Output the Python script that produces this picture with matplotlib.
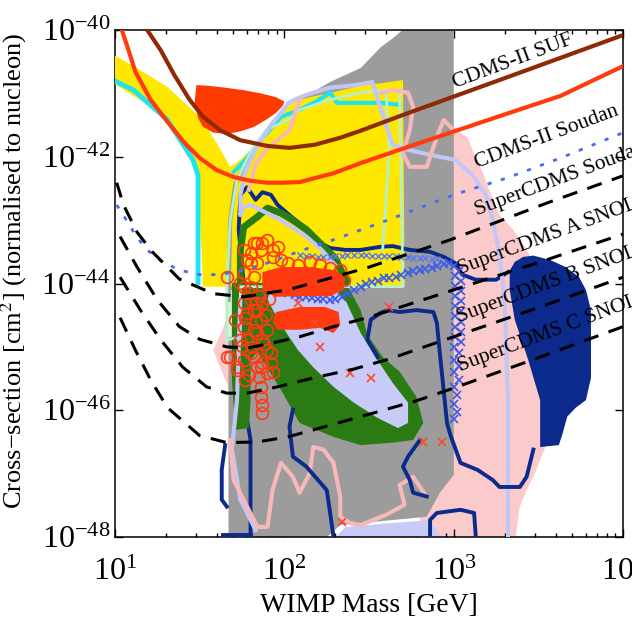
import numpy as np
import matplotlib
matplotlib.use("Agg")
import matplotlib.pyplot as plt
from matplotlib.ticker import FixedLocator, NullLocator, LogFormatterMathtext

plt.rcParams['font.family'] = ['Liberation Serif', 'DejaVu Serif']
plt.rcParams['mathtext.fontset'] = 'stix'

# all values below are log10(mass / GeV) and log10(sigma / cm^2)

# limit curves
suf_m = [1.17, 1.19, 1.27, 1.35, 1.44, 1.52, 1.62, 1.74, 1.90, 2.03, 2.18, 2.33, 2.45, 2.68, 2.98, 3.27, 3.63, 4.00]
suf_s = [-39.9, -40.00, -40.32, -40.71, -41.10, -41.37, -41.58, -41.74, -41.83, -41.86, -41.81, -41.70, -41.59, -41.36, -41.07, -40.79, -40.44, -40.08]
sou_m = [1.03, 1.04, 1.08, 1.12, 1.21, 1.31, 1.41, 1.50, 1.60, 1.70, 1.80, 1.90, 1.99, 2.09, 2.29, 2.45, 2.68, 2.98, 3.27, 3.63, 4.00]
sou_s = [-39.9, -40.00, -40.32, -40.66, -41.10, -41.45, -41.78, -42.02, -42.21, -42.32, -42.38, -42.41, -42.41, -42.40, -42.26, -42.10, -41.89, -41.62, -41.36, -41.04, -40.57]
sso_m = [1.01, 1.06, 1.12, 1.18, 1.27, 1.38, 1.50, 1.62, 1.74, 1.92, 2.09, 2.29, 2.58, 3.00, 3.32, 3.63, 4.00]
sso_s = [-42.76, -42.97, -43.23, -43.45, -43.64, -43.79, -43.86, -43.86, -43.80, -43.66, -43.49, -43.31, -43.03, -42.60, -42.33, -42.02, -41.62]
snoa_m = [1.01, 1.05, 1.13, 1.22, 1.38, 1.58, 1.76, 1.90, 2.02, 2.29, 2.49, 2.68, 2.98, 3.55, 4.00]
snoa_s = [-42.41, -42.76, -43.19, -43.50, -43.93, -44.16, -44.21, -44.15, -44.10, -43.90, -43.75, -43.58, -43.31, -42.73, -42.30]
snob_m = [1.03, 1.13, 1.25, 1.38, 1.50, 1.66, 1.78, 1.96, 2.09, 2.29, 2.49, 3.00, 3.51, 4.00]
snob_s = [-43.26, -43.74, -44.26, -44.68, -44.88, -45.00, -45.02, -44.92, -44.84, -44.68, -44.54, -44.10, -43.66, -43.22]
snoc_m = [1.03, 1.15, 1.27, 1.40, 1.54, 1.66, 1.78, 1.96, 2.17, 2.41, 2.62, 3.00, 3.51, 4.00]
snoc_s = [-43.90, -44.42, -44.89, -45.32, -45.63, -45.73, -45.73, -45.63, -45.49, -45.35, -45.19, -44.84, -44.37, -43.90]
snod_m = [1.03, 1.12, 1.21, 1.31, 1.50, 1.66, 1.84, 2.02, 2.17, 2.49, 2.78, 3.00, 3.51, 4.00]
snod_s = [-44.54, -45.05, -45.52, -45.96, -46.40, -46.51, -46.50, -46.42, -46.31, -46.07, -45.85, -45.65, -45.16, -44.68]

# filled regions
pink_m = [2.80, 2.80, 3.00, 3.08, 3.11, 3.17, 3.22, 3.27, 3.35, 3.43, 3.47, 3.51, 3.54, 3.48, 3.43, 3.39, 3.36]
pink_s = [-48.1, -41.55, -41.55, -41.69, -41.89, -42.24, -42.60, -42.92, -43.15, -43.47, -43.66, -44.26, -46.58, -46.99, -47.26, -47.52, -48.1]
pink2_m = [1.68, 1.58, 1.68]
pink2_s = [-44.45, -45.05, -45.71]
grey_m = [1.67, 2.21, 2.33, 2.84, 2.92, 3.00, 3.00, 2.74, 2.65, 2.57, 2.45, 2.27, 2.09, 1.86, 1.78, 1.71, 1.67]
grey_s = [-48.1, -48.1, -47.81, -47.68, -47.29, -47.02, -39.9, -39.9, -40.11, -40.27, -40.60, -40.82, -41.10, -41.74, -42.05, -42.44, -42.84]
lavb_m = [2.27, 2.36, 2.86, 2.95]
lavb_s = [-48.1, -47.84, -47.73, -48.1]
navy_m = [3.33, 3.36, 3.41, 3.47, 3.57, 3.66, 3.74, 3.78, 3.81, 3.81, 3.78, 3.72, 3.67, 3.64, 3.62, 3.51, 3.51, 3.44, 3.36, 3.33]
navy_s = [-43.80, -43.66, -43.58, -43.56, -43.63, -43.74, -43.90, -44.10, -44.42, -45.49, -45.84, -45.96, -46.10, -46.39, -46.55, -46.58, -45.84, -45.21, -44.57, -44.10]
yel_m = [0.99, 1.11, 1.31, 1.50, 1.60, 1.68, 1.74, 1.80, 1.90, 1.98, 2.02, 2.15, 2.29, 2.45, 2.57, 2.70, 2.71, 1.52, 1.49, 1.46, 1.37, 1.21, 0.99]
yel_s = [-40.39, -40.57, -40.90, -41.37, -41.78, -42.16, -42.05, -41.89, -41.58, -41.31, -41.15, -41.06, -40.98, -40.88, -40.84, -40.79, -44.05, -44.05, -42.21, -42.00, -41.62, -41.21, -40.84]
blob_m = [1.48, 1.55, 1.65, 1.76, 1.86, 1.95, 2.00, 1.99, 1.95, 1.89, 1.82, 1.74, 1.66, 1.58, 1.52, 1.49, 1.47]
blob_s = [-40.87, -40.88, -40.91, -40.95, -41.00, -41.06, -41.13, -41.20, -41.31, -41.42, -41.53, -41.60, -41.64, -41.62, -41.53, -41.39, -41.15]
green_m = [1.69, 2.36, 2.37, 2.45, 2.49, 2.58, 2.68, 2.78, 2.82, 2.76, 2.64, 2.45, 2.29, 2.09, 1.98, 1.84, 1.80, 1.80, 1.79, 1.71, 1.69]
green_s = [-43.99, -43.99, -44.02, -44.42, -44.81, -45.16, -45.39, -45.79, -46.20, -46.47, -46.51, -46.55, -46.42, -46.20, -45.68, -45.08, -45.21, -45.84, -46.28, -46.31, -45.52]
gtop_m = [1.74, 1.74, 1.76, 1.84, 1.90, 1.98, 2.05, 2.13, 2.21, 2.30, 2.37]
gtop_s = [-44.26, -43.47, -43.11, -42.95, -42.81, -42.89, -43.00, -43.15, -43.36, -43.60, -43.99]
lav_m = [1.92, 2.09, 2.27, 2.36, 2.45, 2.55, 2.64, 2.73, 2.73, 2.67, 2.55, 2.41, 2.29, 2.17, 2.08, 1.98, 1.90]
lav_s = [-44.05, -43.99, -43.99, -44.26, -44.78, -45.21, -45.57, -45.88, -46.20, -46.28, -46.12, -45.88, -45.63, -45.32, -45.05, -44.65, -44.26]
mbox_m = [1.66, 1.77, 1.77, 1.66]
mbox_s = [-44.10, -44.10, -44.84, -44.84]

# contour lines
cyan1_m = [0.99, 1.11, 1.31, 1.46, 1.49, 1.49]
cyan1_s = [-40.79, -40.95, -41.42, -42.05, -42.29, -43.99]
cyan2_m = [1.70, 1.77, 1.86, 1.98, 2.09, 2.18, 2.27, 2.31, 2.45, 2.57, 2.68]
cyan2_s = [-42.24, -42.05, -41.74, -41.37, -41.26, -41.14, -40.99, -41.15, -41.15, -41.15, -41.18]
mint1_m = [1.66, 1.66, 1.68, 1.72, 1.80, 1.89, 2.02, 2.09, 2.27, 2.45, 2.60, 2.68, 2.70, 1.74, 1.74, 1.66]
mint1_s = [-44.89, -44.10, -43.00, -42.37, -41.92, -41.58, -41.42, -41.26, -41.10, -40.99, -40.95, -40.95, -44.05, -44.05, -44.84, -44.89]
mint2_m = [2.60, 2.62, 2.58]
mint2_s = [-40.95, -41.89, -43.47]
gline_m = [1.67, 1.68, 1.71, 1.78, 1.86]
gline_s = [-44.26, -43.00, -42.44, -42.05, -41.74]
lav1_m = [3.32, 3.32, 3.30, 3.27, 3.23, 3.19, 3.11, 3.01, 2.86, 2.73, 2.64, 2.57, 2.52, 2.42, 2.27, 2.12, 2.03, 1.92, 1.83, 1.77, 1.74, 1.74, 1.76, 1.80, 1.98, 2.13, 2.22, 2.30]
lav1_s = [-48.1, -45.84, -44.26, -43.55, -43.00, -42.60, -42.29, -42.05, -41.97, -41.89, -41.81, -41.26, -40.82, -40.87, -40.91, -41.03, -41.14, -41.50, -41.89, -42.24, -42.60, -42.92, -42.79, -42.76, -43.00, -43.26, -43.47, -43.71]
lav2_m = [1.74, 1.72, 1.69, 1.74, 1.83]
lav2_s = [-44.26, -45.84, -46.62, -47.41, -47.89]
pk0_m = [2.09, 2.03, 1.89, 1.83, 1.79]
pk0_s = [-41.10, -41.58, -41.89, -42.13, -42.52]
pk1_m = [2.57, 2.64, 2.73, 2.76, 2.74, 2.70, 2.74, 2.84, 2.90, 2.94, 3.00]
pk1_s = [-40.99, -40.95, -40.99, -41.21, -41.58, -41.94, -42.16, -42.16, -41.69, -41.42, -41.58]
pk2_m = [1.68, 1.70, 1.84, 1.90, 1.93, 1.98, 2.05, 2.09, 2.15, 2.17, 2.23, 2.29, 2.33, 2.33, 2.39, 2.45, 2.60, 2.71, 2.68, 2.76, 2.83]
pk2_s = [-46.47, -47.10, -47.84, -47.84, -47.26, -46.83, -47.05, -47.30, -46.99, -46.58, -46.62, -46.83, -47.37, -47.68, -47.78, -47.81, -47.65, -47.49, -47.18, -47.05, -47.33]
nv1_m = [1.80, 1.80, 1.78, 1.77, 1.75, 1.73, 1.74, 1.78, 1.83, 1.87, 1.92, 1.96, 2.03, 2.12, 2.21, 2.27, 2.36, 2.45, 2.57, 2.64, 2.74, 2.86, 2.94, 3.01, 3.05, 3.13, 3.25, 3.32]
nv1_s = [-47.97, -46.47, -46.15, -44.26, -43.71, -43.15, -42.60, -42.48, -42.68, -42.56, -42.60, -42.76, -42.92, -43.12, -43.36, -43.44, -43.47, -43.47, -43.42, -43.41, -43.47, -43.50, -43.58, -43.68, -43.86, -43.94, -43.94, -43.82]
nv2_m = [2.55, 2.49, 2.51, 2.57, 2.61, 2.68, 2.78, 2.88, 2.90, 2.92, 2.94, 2.96, 2.98, 3.04, 3.14, 3.23, 3.27, 3.39, 3.43, 3.47]
nv2_s = [-45.16, -44.89, -44.57, -44.46, -44.42, -44.45, -44.42, -44.45, -44.62, -45.16, -45.68, -46.20, -46.39, -46.83, -46.94, -47.10, -47.21, -47.21, -47.05, -46.62]
nv3_m = [2.05, 2.03, 2.05, 2.13, 2.25, 2.27, 2.29]
nv3_s = [-45.99, -46.26, -46.73, -46.89, -47.26, -47.62, -48.0]
nv4_m = [2.80, 2.73, 2.70, 2.74, 2.76, 2.84]
nv4_s = [-46.47, -46.73, -46.89, -47.10, -47.30, -47.36]
nv5_m = [2.86, 2.86, 2.90, 3.04, 3.12, 3.13]
nv5_s = [-48.0, -47.73, -47.62, -47.57, -47.62, -48.0]
nv6_m = [1.65, 1.63, 1.63, 1.66]
nv6_s = [-46.55, -46.94, -47.41, -47.52]
nv7_m = [1.64, 1.80]
nv7_s = [-47.97, -47.97]

# scan points
band1_m = [1.87, 1.98, 2.15, 2.30, 2.36, 2.35, 2.27, 2.09, 1.95, 1.87]
band1_s = [-43.82, -43.74, -43.74, -43.79, -43.91, -44.10, -44.20, -44.20, -44.21, -44.10]
band2_m = [1.95, 2.09, 2.24, 2.32, 2.33, 2.29, 2.21, 2.09, 1.96, 1.93]
band2_s = [-44.45, -44.37, -44.37, -44.45, -44.65, -44.78, -44.70, -44.73, -44.73, -44.61]
circ_m = [1.66, 1.76, 1.82, 1.87, 1.93, 1.84, 1.90, 1.96, 1.80, 1.86, 1.78, 1.84, 1.93, 1.98, 2.02, 2.08,
          1.76, 1.82, 1.74, 1.80, 1.80, 1.76, 1.80, 1.78, 1.84, 1.76, 1.82, 1.86, 1.87, 1.78, 1.68, 1.72,
          1.80, 1.84, 1.87, 1.90, 1.86, 1.76, 1.82, 1.87, 1.74, 1.84, 1.90, 1.92, 1.66, 1.72, 1.82, 1.86,
          1.92, 1.86, 1.87, 1.87, 2.15, 2.21, 2.27, 2.33, 2.13, 2.20, 2.35, 1.71, 1.77,
          1.79, 1.85, 1.91, 1.77, 1.83, 1.89, 1.75, 1.81, 1.88, 1.79, 1.85, 1.93, 1.76, 1.83, 1.90]
circ_s = [-43.90, -43.47, -43.36, -43.36, -43.47, -43.36, -43.31, -43.42, -43.52, -43.47, -43.63, -43.68, -43.58, -43.63, -43.68, -43.71,
          -43.83, -43.90, -43.99, -44.05, -43.68, -44.05, -44.26, -44.46, -44.42, -44.68, -44.73, -44.57, -44.89, -44.89, -45.16, -45.36,
          -45.09, -45.32, -45.25, -45.41, -45.63, -44.31, -44.42, -44.31, -44.89, -44.78, -44.73, -45.09, -45.16, -45.32, -45.16, -45.32,
          -45.25, -45.79, -45.91, -46.04, -43.66, -43.71, -43.75, -43.79, -43.86, -43.91, -43.94, -44.57, -45.52,
          -44.15, -44.20, -44.25, -44.55, -44.60, -44.50, -44.99, -45.00, -44.95, -45.45, -45.48, -45.40, -45.20, -44.30, -45.05]
rx_m = [2.08, 2.18, 2.21, 2.39, 2.51, 2.62, 2.82, 2.93, 2.34]
rx_s = [-44.31, -44.62, -45.00, -45.41, -45.49, -44.37, -46.50, -46.50, -47.76]
bxl_m = [1.92, 1.95, 1.99, 2.02, 2.06, 2.09, 2.13, 2.16, 2.20, 2.23, 2.27, 2.30, 2.34, 2.37, 2.41, 2.45,
         2.48, 2.52, 2.55, 2.59, 2.62, 2.66, 2.69, 2.73, 2.76, 2.80, 2.83, 2.87, 2.90, 2.94, 2.97]
bxl_s = [-44.07, -44.09, -44.12, -44.15, -44.18, -44.21, -44.22, -44.23, -44.24, -44.25, -44.26, -44.24, -44.21, -44.16, -44.10, -44.05,
         -44.01, -43.98, -43.96, -43.92, -43.91, -43.89, -43.87, -43.84, -43.81, -43.79, -43.77, -43.75, -43.73, -43.70, -43.68]
bxv_m = [3.00, 3.03, 3.01, 3.04, 3.01, 3.04, 3.01, 3.04, 3.01, 3.04, 3.01, 3.04, 3.01, 3.04, 3.01, 3.04,
         3.00, 3.03, 3.00, 3.03, 3.00, 3.03, 3.00, 3.02, 3.00, 3.02, 3.00]
bxv_s = [-43.72, -43.80, -43.88, -43.96, -44.04, -44.12, -44.20, -44.28, -44.36, -44.44, -44.52, -44.60, -44.68, -44.76, -44.84, -44.92,
         -45.00, -45.10, -45.20, -45.30, -45.40, -45.52, -45.64, -45.76, -45.90, -46.02, -46.14]
bxu_m = [2.09, 2.13, 2.16, 2.20, 2.23, 2.27, 2.30, 2.34, 2.37, 2.41, 2.45, 2.48, 2.52, 2.55, 2.59, 2.62,
         2.66, 2.69, 2.73, 2.76, 2.80, 2.83, 2.87, 2.90]
bxu_s = [-43.55, -43.56, -43.57, -43.58, -43.58, -43.58, -43.57, -43.56, -43.55, -43.55, -43.55, -43.55, -43.56, -43.56, -43.57, -43.57,
         -43.57, -43.58, -43.58, -43.59, -43.60, -43.60, -43.61, -43.62]

# curve labels: text, log mass, log sigma of baseline start
lab_txt = ['CDMS-II SUF', 'CDMS-II Soudan', 'SuperCDMS Soudan',
           'SuperCDMS A SNOLAB', 'SuperCDMS B SNOLAB', 'SuperCDMS C SNOLAB']
lab_m = [3.01, 3.14, 3.14, 3.04, 3.03, 3.04]
lab_s = [-40.91, -42.18, -42.92, -43.86, -44.61, -45.39]


def tp(a):
    return 10.0 ** np.asarray(a, dtype=float)


fig = plt.figure(figsize=(6.32, 6.18), dpi=100)
ax = fig.add_axes([0.182, 0.131, 0.804, 0.8205])
ax.set_xscale('log')
ax.set_yscale('log')

# regions
ax.fill(tp(pink_m), tp(pink_s), color='#fbcaca', lw=0, zorder=1)
ax.fill(tp(pink2_m), tp(pink2_s), color='#fbcaca', lw=0, zorder=1)
ax.fill(tp(grey_m), tp(grey_s), color='#9c9c9c', lw=0, zorder=2)
ax.fill(tp(lavb_m), tp(lavb_s), color='#c8cbf7', lw=0, zorder=2.5)
ax.fill(tp(navy_m), tp(navy_s), color='#0b2a8c', lw=0, zorder=3)
ax.fill(tp(yel_m), tp(yel_s), color='#ffe800', lw=0, zorder=4)
ax.fill(tp(mbox_m), tp(mbox_s), color='#d2f5da', lw=0, zorder=4.5)
ax.fill(tp(green_m), tp(green_s), color='#2a7b14', lw=0, zorder=5)
ax.fill(tp(lav_m), tp(lav_s), color='#c8cbf7', lw=0, zorder=5.5)

# contour lines
ax.plot(tp(gline_m), tp(gline_s), color='#9c9c9c', lw=3, zorder=4.6)
ax.plot(tp(nv1_m), tp(nv1_s), color='#0b2a8c', lw=2.8, zorder=4.8)
ax.plot(tp(gtop_m), tp(gtop_s), color='#2a7b14', lw=5, zorder=6, solid_capstyle='round')
ax.plot(tp(cyan1_m), tp(cyan1_s), color='#1fe3f0', lw=3.5, zorder=6)
ax.plot(tp(cyan2_m), tp(cyan2_s), color='#1fe3f0', lw=3, zorder=6)
ax.plot(tp(mint1_m), tp(mint1_s), color='#b5f0cc', lw=2, zorder=6)
ax.plot(tp(mint2_m), tp(mint2_s), color='#b5f0cc', lw=2, zorder=6)
ax.plot(tp(lav1_m), tp(lav1_s), color='#c3c6f5', lw=3, zorder=6.2)
ax.plot(tp(lav2_m), tp(lav2_s), color='#c3c6f5', lw=3, zorder=6.2)
for pm, ps in [(pk0_m, pk0_s), (pk1_m, pk1_s), (pk2_m, pk2_s)]:
    ax.plot(tp(pm), tp(ps), color='#f6b8b8', lw=3, zorder=6.3)
for nm, ns in [(nv2_m, nv2_s), (nv3_m, nv3_s), (nv4_m, nv4_s),
               (nv5_m, nv5_s), (nv6_m, nv6_s), (nv7_m, nv7_s)]:
    ax.plot(tp(nm), tp(ns), color='#0b2a8c', lw=2.8, zorder=6.5)

# scan points
ax.fill(tp(blob_m), tp(blob_s), color='#ff3a00', lw=0, zorder=7)
ax.plot(tp(bxu_m), tp(bxu_s), ls='none', marker='x', ms=5, mew=1, color='#5a78f0', zorder=7.5)
ax.plot(tp(bxl_m), tp(bxl_s), ls='none', marker='x', ms=6, mew=1.2, color='#3a5ae8', zorder=7.6)
ax.plot(tp(bxv_m), tp(bxv_s), ls='none', marker='x', ms=6, mew=1.2, color='#3a5ae8', zorder=7.6)
ax.fill(tp(band1_m), tp(band1_s), color='#ff3a10', lw=0, zorder=7.7)
ax.fill(tp(band2_m), tp(band2_s), color='#ff3a10', lw=0, zorder=7.7)
ax.plot(tp(circ_m), tp(circ_s), ls='none', marker='o', ms=8.5, mfc='none', mew=1.2, color='#ff3a10', zorder=7.8)
ax.plot(tp(rx_m), tp(rx_s), ls='none', marker='x', ms=6, mew=1.2, color='#ff4a2a', zorder=7.8)

# limits
ax.plot(tp(suf_m), tp(suf_s), color='#8f2a05', lw=3, zorder=9)
ax.plot(tp(sou_m), tp(sou_s), color='#ff3a0d', lw=3, zorder=9)
ax.plot(tp(sso_m), tp(sso_s), color='#4a6cf0', lw=2, ls=(0, (1.5, 3.5)), zorder=9)
for dm, ds in [(snoa_m, snoa_s), (snob_m, snob_s), (snoc_m, snoc_s), (snod_m, snod_s)]:
    ax.plot(tp(dm), tp(ds), color='black', lw=2.2, ls=(0, (5, 3.5)), zorder=9)

for t, lm, ls_ in zip(lab_txt, lab_m, lab_s):
    ax.text(10 ** lm, 10 ** ls_, t, fontsize=15.5, rotation=20.5, rotation_mode='anchor',
            ha='left', va='baseline', zorder=10)

ax.set_xlim(10, 1e4)
ax.set_ylim(1e-48, 1e-40)
ax.yaxis.set_major_locator(FixedLocator([1e-48, 1e-46, 1e-44, 1e-42, 1e-40]))
ax.yaxis.set_major_formatter(LogFormatterMathtext())
ax.yaxis.set_minor_locator(NullLocator())
ax.tick_params(which='both', direction='in', top=True, right=True, labelsize=23, width=1)
ax.tick_params(which='major', length=6)
ax.tick_params(which='minor', length=3)
ax.tick_params(axis='x', which='major', pad=15)
for sp in ax.spines.values():
    sp.set_linewidth(1.1)

ax.set_xlabel('WIMP Mass [GeV]', fontsize=20, labelpad=4)
ax.set_ylabel('Cross\u2212section [cm$^2$] (normalised to nucleon)', fontsize=19)
ax.yaxis.set_label_coords(-0.17, 0.525)

fig.savefig('out.png', dpi=100)
